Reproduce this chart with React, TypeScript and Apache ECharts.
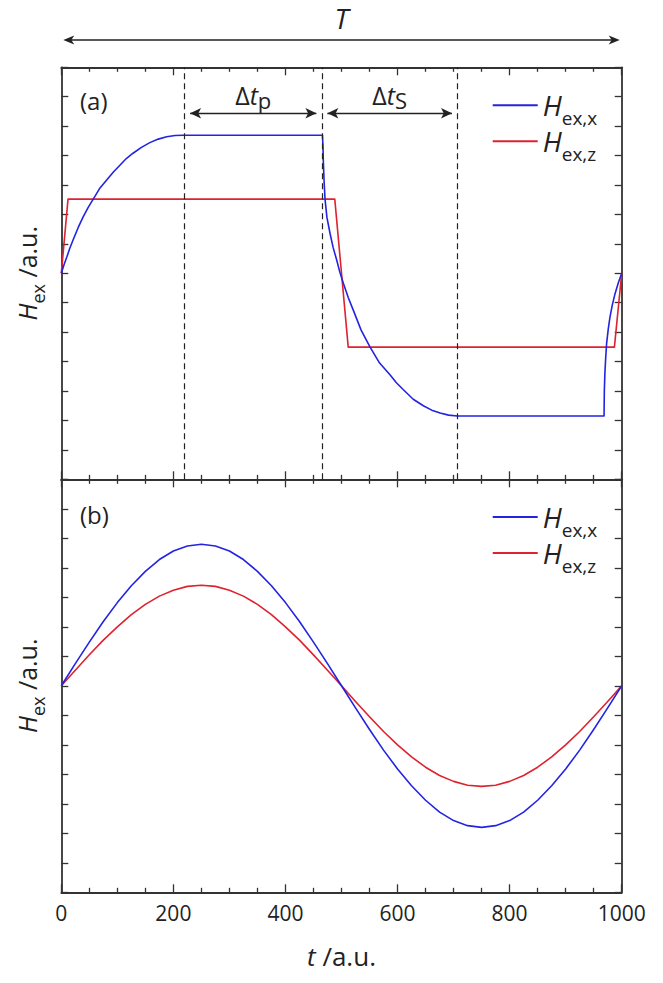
import React, { useEffect, useRef } from 'react';
import * as echarts from 'echarts';

const FONT = "'Open Sans', 'Noto Sans', sans-serif";
const BLUE = '#2323e2';
const RED = '#de2230';
const AX = '#333333';
const TXT = '#222222';

// ---- panel (a): square-wave type excitation ----
const tAx = [0, 5, 10, 15, 21, 30, 39, 48, 57, 68, 81, 93, 105, 116, 128, 143, 158, 173, 188, 203, 218,
  466, 467, 467.5, 469, 470.6, 474, 479.5, 485, 491.4, 497, 503.3, 512, 521, 535, 551, 568, 586.5, 598, 610, 628, 646, 661, 676, 691, 707,
  968.5, 969, 970, 971.5, 973, 976, 979, 983, 988, 994, 1000];
const hAx = [7.0, 7.3, 7.56, 7.84, 8.13, 8.55, 8.92, 9.24, 9.52, 9.87, 10.17, 10.44, 10.68, 10.9, 11.08, 11.28, 11.44, 11.56, 11.64, 11.68, 11.69,
  11.69, 11.3, 10.85, 10.1, 9.52, 8.9, 8.36, 7.88, 7.45, 7.04, 6.66, 6.18, 5.75, 5.07, 4.49, 3.95, 3.55, 3.28, 3.05, 2.72, 2.5, 2.35, 2.25, 2.18, 2.15,
  2.15, 3.0, 3.6, 4.15, 4.6, 5.1, 5.5, 5.9, 6.3, 6.68, 7.0];
const tAz = [0, 12, 488, 512, 987, 1000];
const hAz = [7.0, 9.52, 9.52, 4.49, 4.49, 7.0];
const markerTimes = [220, 465, 707];
const intervalLabels = ['p', 'S'];
const arrowLevel = 12.44;

// ---- panel (b): sinusoidal excitation ----
const tB = [0, 25, 50, 75, 100, 125, 150, 175, 200, 225, 250, 275, 300, 325, 350, 375, 400, 425, 450, 475, 500,
  525, 550, 575, 600, 625, 650, 675, 700, 725, 750, 775, 800, 825, 850, 875, 900, 925, 950, 975, 1000];
const hBx = [7.0, 7.75, 8.48, 9.18, 9.82, 10.39, 10.88, 11.28, 11.57, 11.74, 11.8, 11.74, 11.57, 11.28, 10.88, 10.39, 9.82, 9.18, 8.48, 7.75, 7.0,
  6.25, 5.52, 4.82, 4.18, 3.61, 3.12, 2.72, 2.43, 2.26, 2.2, 2.26, 2.43, 2.72, 3.12, 3.61, 4.18, 4.82, 5.52, 6.25, 7.0];
const hBz = [7.0, 7.53, 8.05, 8.55, 9.0, 9.41, 9.76, 10.04, 10.24, 10.37, 10.41, 10.37, 10.24, 10.04, 9.76, 9.41, 9.0, 8.55, 8.05, 7.53, 7.0,
  6.47, 5.95, 5.45, 5.0, 4.59, 4.24, 3.96, 3.76, 3.63, 3.59, 3.63, 3.76, 3.96, 4.24, 4.59, 5.0, 5.45, 5.95, 6.47, 7.0];

const X_MIN = 0, X_MAX = 1000, X_STEP = 200;
const Y_MIN = 0, Y_MAX = 14, Y_STEP = 1;

const pair = (ts: number[], hs: number[]) => ts.map((t, i) => [t, hs[i]]);

const subRich = {
  h: { fontFamily: FONT, fontSize: 28, fontStyle: 'italic', color: TXT },
  s: { fontFamily: FONT, fontSize: 19, color: TXT, padding: [25, 0, 0, 0] },
};

function xAxis(gridIndex: number, position: string, labels: boolean, name?: string) {
  return {
    type: 'value', gridIndex, position, min: X_MIN, max: X_MAX, interval: X_STEP,
    name: name || '',
    nameLocation: 'middle',
    nameGap: 51,
    nameTextStyle: {
      fontFamily: FONT, color: TXT,
      rich: {
        t: { fontFamily: FONT, fontSize: 26, fontStyle: 'italic', color: TXT },
        n: { fontFamily: FONT, fontSize: 26, color: TXT },
      },
    },
    axisLine: { show: true, onZero: false, lineStyle: { color: AX, width: 1.8 } },
    axisTick: { show: true, inside: true, length: 8, lineStyle: { color: AX, width: 1.3 } },
    minorTick: { show: true, splitNumber: 4, length: 4.5, lineStyle: { color: AX, width: 1.3 } },
    axisLabel: { show: labels, margin: 10, fontFamily: FONT, fontSize: 21, color: TXT, formatter: (v: number) => String(v) },
    splitLine: { show: false },
    minorSplitLine: { show: false },
  };
}

function yAxis(gridIndex: number, position: string, withName: boolean) {
  return {
    type: 'value', gridIndex, position, min: Y_MIN, max: Y_MAX, interval: Y_STEP,
    name: withName ? '{h|H}{s|ex}{n| /a.u.}' : '',
    nameLocation: 'middle',
    nameRotate: 90,
    nameGap: 14,
    nameTextStyle: {
      fontFamily: FONT, color: TXT,
      rich: {
        h: { fontFamily: FONT, fontSize: 25, fontStyle: 'italic', color: TXT },
        s: { fontFamily: FONT, fontSize: 18, color: TXT, padding: [23, 0, 0, 0] },
        n: { fontFamily: FONT, fontSize: 25, color: TXT },
      },
    },
    axisLine: { show: true, onZero: false, lineStyle: { color: AX, width: 1.8 } },
    axisTick: { show: true, inside: true, length: 7, lineStyle: { color: AX, width: 1.3 } },
    axisLabel: { show: false },
    splitLine: { show: false },
  };
}

function legend(top: number, names: string[]) {
  return {
    left: 492.7, top, orient: 'vertical', padding: 0, itemGap: 0,
    itemWidth: 45, itemHeight: 2, icon: 'rect', selectedMode: false,
    data: names,
    formatter: (n: string) => (n.endsWith('x') ? '{h|H}{s|ex,x}' : '{h|H}{s|ex,z}'),
    textStyle: { fontFamily: FONT, color: TXT, rich: subRich },
  };
}

function lineSeries(name: string, xi: number, data: number[][], color: string, extra: any = {}) {
  return {
    name, type: 'line', xAxisIndex: xi, yAxisIndex: xi, data,
    symbol: 'none', showSymbol: false, smooth: false,
    lineStyle: { color, width: 1.6, join: 'round' }, itemStyle: { color },
    clip: false,
    ...extra,
  };
}

export default function App() {
  const ref = useRef<HTMLDivElement>(null);
  useEffect(() => {
    if (!ref.current) return;
    const chart = echarts.init(ref.current, undefined, { renderer: 'svg' });
    const option: any = {
      animation: false,
      backgroundColor: '#ffffff',
      textStyle: { fontFamily: FONT },
      grid: [
        { left: 61.3, top: 67.3, width: 560.4, height: 412 },
        { left: 61.3, top: 479.3, width: 560.4, height: 413 },
      ],
      xAxis: [
        xAxis(0, 'bottom', false),
        xAxis(0, 'top', false),
        xAxis(1, 'bottom', true, '{t|t}{n| /a.u.}'),
        xAxis(1, 'top', false),
      ],
      yAxis: [
        yAxis(0, 'left', true),
        yAxis(0, 'right', false),
        yAxis(1, 'left', true),
        yAxis(1, 'right', false),
      ],
      legend: [legend(91.3, ['a-Hx', 'a-Hz']), legend(503, ['b-Hx', 'b-Hz'])],
      series: [
        lineSeries('a-Hx', 0, pair(tAx, hAx), BLUE, {
          z: 4,
          markLine: {
            silent: true,
            symbol: ['arrow', 'arrow'],
            symbolSize: [8, 11],
            lineStyle: { color: TXT, width: 1.3, type: 'solid' },
            label: {
              show: true, position: 'middle', distance: 2, color: TXT,
              formatter: (p: any) => '{d|Δ}{t|t}{s|' + intervalLabels[p.dataIndex] + '}',
              rich: {
                d: { fontFamily: FONT, fontSize: 25, color: TXT },
                t: { fontFamily: FONT, fontSize: 25, fontStyle: 'italic', color: TXT },
                s: { fontFamily: FONT, fontSize: 22, color: TXT, padding: [10, 0, 0, 0] },
              },
            },
            data: [
              [{ coord: [markerTimes[0] + 9.8, arrowLevel] }, { coord: [markerTimes[1] - 9.8, arrowLevel] }],
              [{ coord: [markerTimes[1] + 9.8, arrowLevel] }, { coord: [markerTimes[2] - 9.8, arrowLevel] }],
            ],
          },
        }),
        lineSeries('a-Hz', 0, pair(tAz, hAz), RED, {
          z: 3,
          markLine: {
            silent: true, symbol: 'none',
            lineStyle: { color: TXT, width: 1.2, type: [6, 4] },
            label: { show: false },
            data: markerTimes.map((t) => ({ xAxis: t })),
          },
        }),
        lineSeries('b-Hx', 2, pair(tB, hBx), BLUE, { z: 4 }),
        lineSeries('b-Hz', 2, pair(tB, hBz), RED, { z: 3 }),
      ],
    };
    chart.setOption(option);

    const xl = chart.convertToPixel({ xAxisIndex: 0 }, X_MIN) as number;
    const xr = chart.convertToPixel({ xAxisIndex: 0 }, X_MAX) as number;
    const ay = 40;
    const x1 = xl + 2, x2 = xr - 2;
    const head = (tip: number, dir: number) => ({
      type: 'polygon',
      shape: { points: [[tip, ay], [tip + dir * 11, ay - 4.5], [tip + dir * 8, ay], [tip + dir * 11, ay + 4.5]] },
      style: { fill: TXT },
      silent: true,
    });
    chart.setOption({
      graphic: [
        { type: 'line', shape: { x1: x1 + 6, y1: ay, x2: x2 - 6, y2: ay }, style: { stroke: TXT, lineWidth: 1.4 }, silent: true },
        head(x1, 1),
        head(x2, -1),
        {
          type: 'text', x: (xl + xr) / 2, y: 18,
          style: { text: 'T', fontFamily: FONT, fontSize: 28, fontStyle: 'italic', fill: TXT, align: 'center', verticalAlign: 'middle' },
          silent: true,
        },
        {
          type: 'text', x: 80, y: 100,
          style: { text: '(a)', fontFamily: FONT, fontSize: 24, fill: TXT, align: 'left', verticalAlign: 'middle' },
          silent: true,
        },
        {
          type: 'text', x: 80, y: 514,
          style: { text: '(b)', fontFamily: FONT, fontSize: 24, fill: TXT, align: 'left', verticalAlign: 'middle' },
          silent: true,
        },
      ],
    });
    return () => chart.dispose();
  }, []);
  return <div ref={ref} style={{ position: 'fixed', left: 0, top: 0, width: 663, height: 983, background: '#fff' }} />;
}
